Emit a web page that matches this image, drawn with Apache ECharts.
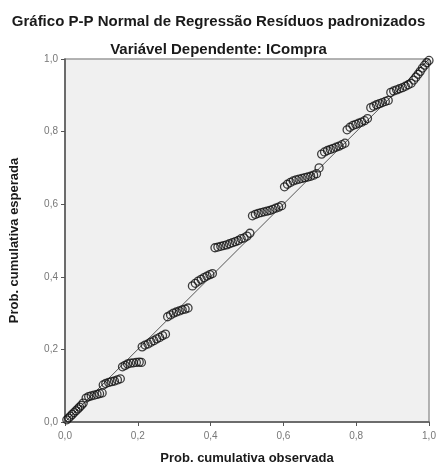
<!DOCTYPE html>
<html>
<head>
<meta charset="utf-8">
<script src="https://cdn.jsdelivr.net/npm/echarts@6/dist/echarts.min.js"></script>
<style>html,body{margin:0;padding:0;background:#fff}#c{width:437px;height:466px}</style>
</head>
<body>
<div id="c"></div>
<script>
const titleText = 'Gráfico P-P Normal de Regressão Resíduos padronizados';
const subtitleText = 'Variável Dependente: ICompra';
const xAxisName = 'Prob. cumulativa observada';
const yAxisName = 'Prob. cumulativa esperada';
const tickLabels = ['0,0', '0,2', '0,4', '0,6', '0,8', '1,0'];
const refLine = [[0, 0], [1, 1]];
const observed = [
  0.005,0.010,0.015,0.020,0.025,0.030,0.035,0.040,0.045,0.050,
  0.058,0.065,0.072,0.080,0.088,0.095,0.102,
  0.105,0.112,0.120,0.128,0.136,0.144,0.152,
  0.158,0.165,0.172,0.180,0.188,0.196,0.204,0.210,
  0.212,0.220,0.228,0.236,0.244,0.252,0.260,0.268,0.276,
  0.282,0.290,0.298,0.306,0.314,0.322,0.330,0.338,
  0.350,0.358,0.366,0.374,0.382,0.390,0.398,0.405,
  0.412,0.420,0.428,0.436,0.444,0.452,0.460,0.468,0.476,0.484,
  0.492,0.500,0.508,
  0.515,0.523,0.531,0.539,0.547,0.555,0.563,0.571,0.579,0.587,0.595,
  0.603,0.611,0.619,0.627,0.635,0.643,0.651,0.659,0.667,0.675,0.683,0.691,
  0.698,
  0.705,0.713,0.721,0.729,0.737,0.745,0.753,0.761,0.769,
  0.775,0.783,0.791,0.799,0.807,0.815,0.823,0.831,
  0.840,0.848,0.856,0.864,0.872,0.880,0.888,
  0.895,0.903,0.911,0.919,0.927,0.935,0.943,0.951,
  0.958,0.964,0.970,0.976,0.982,0.988,0.994,1.000
];
const expected = [
  0.006,0.011,0.016,0.021,0.026,0.031,0.036,0.041,0.046,0.052,
  0.066,0.070,0.072,0.074,0.076,0.078,0.080,
  0.102,0.106,0.109,0.111,0.113,0.116,0.119,
  0.152,0.156,0.160,0.162,0.163,0.164,0.165,0.164,
  0.207,0.212,0.215,0.220,0.224,0.229,0.233,0.238,0.242,
  0.290,0.295,0.300,0.303,0.306,0.309,0.311,0.314,
  0.375,0.382,0.388,0.393,0.398,0.402,0.406,0.409,
  0.480,0.482,0.484,0.486,0.488,0.491,0.494,0.497,0.500,0.505,
  0.507,0.512,0.520,
  0.568,0.572,0.575,0.577,0.579,0.581,0.583,0.586,0.589,0.592,0.596,
  0.648,0.655,0.660,0.664,0.667,0.669,0.671,0.673,0.675,0.677,0.680,0.684,
  0.700,
  0.738,0.744,0.748,0.751,0.754,0.757,0.760,0.764,0.768,
  0.805,0.812,0.817,0.820,0.823,0.826,0.830,0.836,
  0.866,0.870,0.874,0.877,0.880,0.883,0.886,
  0.908,0.912,0.915,0.918,0.921,0.925,0.929,0.933,
  0.942,0.950,0.958,0.966,0.975,0.983,0.990,0.996
];
const points = observed.map((x, i) => [x, expected[i]]);
const fmt = v => tickLabels[Math.round(v / 0.2)] || '';
const fontFam = '"Liberation Sans", Arial, sans-serif';
const chart = echarts.init(document.getElementById('c'), null, {renderer: 'canvas'});
chart.setOption({
  animation: false,
  backgroundColor: '#ffffff',
  title: [
    {text: titleText, left: 'center', top: 9,
     textStyle: {fontFamily: fontFam, fontSize: 15, fontWeight: 'bold', color: '#1a1a1a'}},
    {text: subtitleText, left: 'center', top: 37,
     textStyle: {fontFamily: fontFam, fontSize: 15, fontWeight: 'bold', color: '#1a1a1a'}}
  ],
  grid: {left: 65, right: 8, top: 59, bottom: 44, show: true, containLabel: false,
         outerBoundsMode: 'none',
         backgroundColor: '#f0f0f0', borderColor: '#9a9a9a', borderWidth: 1.5},
  xAxis: {
    type: 'value', min: 0, max: 1, interval: 0.2,
    name: xAxisName, nameLocation: 'middle', nameGap: 30,
    nameTextStyle: {fontFamily: fontFam, fontSize: 13, fontWeight: 'bold', color: '#1a1a1a'},
    axisLine: {show: true, lineStyle: {color: '#555', width: 1.5}},
    axisTick: {show: true, length: 4, lineStyle: {color: '#555'}},
    axisLabel: {formatter: fmt, fontFamily: fontFam, fontSize: 10, color: '#777', margin: 9},
    splitLine: {show: false}
  },
  yAxis: {
    type: 'value', min: 0, max: 1, interval: 0.2,
    name: yAxisName, nameLocation: 'middle', nameGap: 44,
    nameTextStyle: {fontFamily: fontFam, fontSize: 13, fontWeight: 'bold', color: '#1a1a1a'},
    axisLine: {show: true, lineStyle: {color: '#555', width: 1.5}},
    axisTick: {show: true, length: 4, lineStyle: {color: '#555'}},
    axisLabel: {formatter: fmt, fontFamily: fontFam, fontSize: 10, color: '#777', margin: 7},
    splitLine: {show: false}
  },
  series: [
    {type: 'line', data: refLine, symbol: 'none', silent: true,
     lineStyle: {color: '#555', width: 1}, z: 1},
    {type: 'scatter', data: points, symbol: 'circle', symbolSize: 8,
     itemStyle: {color: 'rgba(0,0,0,0)', borderColor: '#111', borderWidth: 1.3}, z: 2}
  ]
});
</script>
</body>
</html>
